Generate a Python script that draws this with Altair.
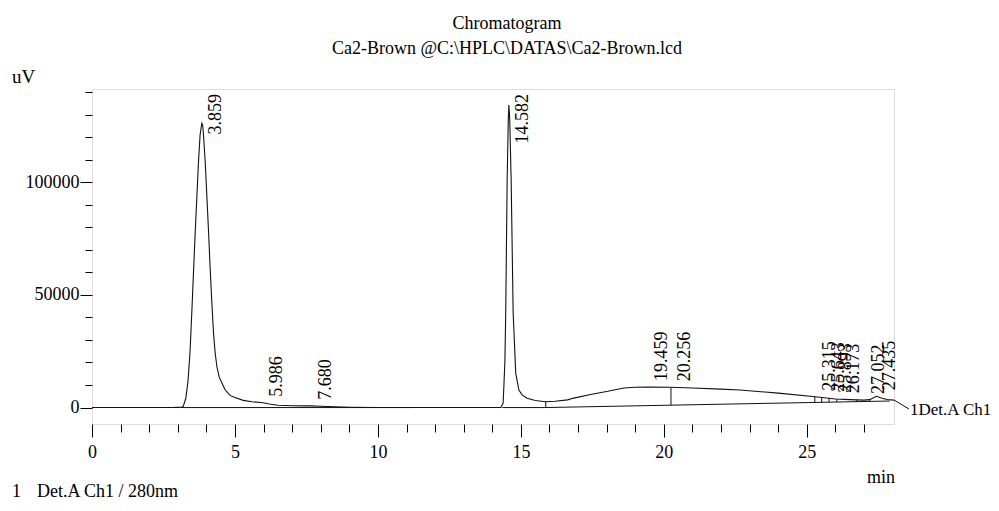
import altair as alt
import pandas as pd
import numpy as np

FONT = "Liberation Serif"

# ---- chromatogram trace (min, uV) ----
time_min = [0.0, 1.0, 2.0, 2.8, 3.0, 3.14, 3.19, 3.28, 3.36, 3.43, 3.49, 3.55, 3.61, 3.67,
            3.72, 3.78, 3.84, 3.87, 3.90, 3.96, 4.02, 4.08, 4.13, 4.19, 4.25, 4.31, 4.37,
            4.45, 4.54, 4.65, 4.75, 4.83, 5.0, 5.29, 5.6, 5.99, 6.2, 6.5, 7.0, 7.5, 7.68,
            7.99, 8.5, 9.04, 10.0, 11.0, 12.0, 13.0, 14.0, 14.3, 14.38, 14.44, 14.47, 14.52,
            14.56, 14.58, 14.61, 14.66, 14.73, 14.82, 14.93, 15.05, 15.22, 15.5, 15.87, 16.2,
            16.63, 16.85, 17.44, 18.04, 18.6, 19.0, 19.46, 20.25, 21.0, 22.0, 22.66, 24.0,
            25.3, 26.0, 26.5, 27.0, 27.2, 27.435, 27.6, 27.8, 28.05]
signal_uv = [0, 0, 0, 0, 100, 200, 500, 4000, 12000, 25000, 42000, 60000, 78000, 94000,
             108000, 121000, 126200, 125500, 121000, 109000, 93000, 77000, 62500, 47000, 33000, 24000, 18000,
             13500, 11000, 8000, 6500, 5400, 4500, 3200, 2600, 2100, 1600, 1000, 800, 750, 750,
             600, 350, 150, 50, 0, 0, 0, 0, 0, 2000, 20000, 42000, 101000,
             128000, 134300, 128000, 101000, 42000, 15300, 7800, 5500, 4100, 3100, 2600, 2800,
             3400, 4200, 5800, 7200, 8700, 9000, 9100, 9000, 8700, 8200, 7800, 6400,
             4800, 3800, 3500, 3300, 3500, 5000, 4200, 3600, 3300]

# ---- integration baselines (segments) ----
base_seg = ["A", "A", "B", "B", "C", "C"]
base_time = [3.1, 11.2, 14.35, 15.87, 15.87, 27.9]
base_uv = [0, 0, 0, 0, 0, 2900]

# ---- drop lines ----
drop_time = [15.87, 20.25, 25.28, 25.52, 25.78, 26.05, 26.75, 27.2]

# ---- peak labels ----
peak_rt = [3.859, 5.986, 7.680, 14.582, 19.459, 20.256, 25.315, 25.643, 25.893, 26.173, 27.052, 27.435]
peak_label = ["3.859", "5.986", "7.680", "14.582", "19.459", "20.256", "25.315", "25.643",
              "25.893", "26.173", "27.052", "27.435"]

x_ticks = list(range(0, 28))
y_ticks = list(range(0, 140001, 10000))

trace = pd.DataFrame({"t": time_min, "v": signal_uv})
base = pd.DataFrame({"seg": base_seg, "t": base_time, "v": base_uv})
segC_t = [15.87, 27.9]
segC_v = [0, 2900]
drops = pd.DataFrame({
    "t": drop_time,
    "v1": np.interp(drop_time, segC_t, segC_v),
    "v2": np.interp(drop_time, time_min, signal_uv),
})
peaks = pd.DataFrame({
    "t": peak_rt,
    "label": peak_label,
    "h": np.interp(peak_rt, time_min, signal_uv),
})

xscale = alt.Scale(domain=[0, 28.05], nice=False, zero=False)
yscale = alt.Scale(domain=[-7300, 141400], nice=False, zero=False)

xaxis = alt.Axis(values=x_ticks, format="d",
                 labelExpr="datum.value % 5 == 0 ? datum.label : ''",
                 tickSize={"condition": {"test": "datum.value % 5 == 0", "value": 13}, "value": 8},
                 domain=False, grid=False, title=None, labelFont=FONT, labelFontSize=18,
                 labelColor="black", tickColor="black", labelPadding=6, labelFlush=False,
                 labelOverlap=False)
yaxis = alt.Axis(values=y_ticks, format="d",
                 labelExpr="datum.value % 50000 == 0 ? datum.label : ''",
                 tickSize={"condition": {"test": "datum.value % 50000 == 0", "value": 12}, "value": 7},
                 domain=False, grid=False, title=None, labelFont=FONT, labelFontSize=18,
                 labelColor="black", tickColor="black", labelPadding=1, labelOverlap=False)

line = alt.Chart(trace).mark_line(color="#111", strokeWidth=1.1, clip=True).encode(
    x=alt.X("t:Q", scale=xscale, axis=xaxis),
    y=alt.Y("v:Q", scale=yscale, axis=yaxis),
)
baseline = alt.Chart(base).mark_line(color="#111", strokeWidth=1).encode(
    x=alt.X("t:Q", axis=xaxis), y=alt.Y("v:Q", axis=yaxis), detail="seg:N")
droplines = alt.Chart(drops).mark_rule(color="#111", strokeWidth=1).encode(
    x=alt.X("t:Q", axis=xaxis), y=alt.Y("v1:Q", axis=yaxis), y2="v2:Q")

small_labels = alt.Chart(peaks).transform_filter("datum.h < 100000").mark_text(
    angle=270, align="left", baseline="alphabetic", dx=6, dy=19,
    font=FONT, fontSize=18, color="black").encode(
    x=alt.X("t:Q", axis=xaxis), y=alt.Y("h:Q", axis=yaxis), text="label:N")
tall_labels = alt.Chart(peaks).transform_filter("datum.h >= 100000").mark_text(
    angle=270, align="right", baseline="alphabetic", dy=19,
    font=FONT, fontSize=18, color="black").encode(
    x=alt.X("t:Q", axis=xaxis), y=alt.value(5), text="label:N")


def note(txt, x, y, align="left", size=18):
    return alt.Chart(pd.DataFrame({"s": [txt]})).mark_text(
        align=align, baseline="middle", font=FONT, fontSize=size, color="black"
    ).encode(text="s:N", x=alt.value(x), y=alt.value(y))


title1 = note("Chromatogram", 415, -65, "center")
title2 = note(r"Ca2-Brown @C:\HPLC\DATAS\Ca2-Brown.lcd", 415, -40, "center")
uv = note("uV", -80, -12, "left", 19)
mins = note("min", 803, 389, "right")
foot1 = note("1", -80, 403, "left")
foot2 = note("Det.A Ch1 / 280nm", -55, 403, "left")
det = note("1Det.A Ch1", 818, 321, "left", 17)
leader = alt.Chart(pd.DataFrame({"s": [1]})).mark_rule(color="#111", strokeWidth=1).encode(
    x=alt.value(802), x2=alt.value(817), y=alt.value(311), y2=alt.value(320))

chart = alt.layer(
    line, baseline, droplines, small_labels, tall_labels,
    title1, title2, uv, mins, foot1, foot2, det, leader
).properties(
    width=802, height=335,
    padding={"left": 84, "top": 81, "right": 97, "bottom": 78},
    autosize=alt.AutoSizeParams(type="none"),
).configure_view(stroke="#222", strokeWidth=1.5).configure_axis(
    labelOverlap=False
).configure(background="white")

chart.save("out.html", embed_options={"renderer": "svg", "actions": False})
